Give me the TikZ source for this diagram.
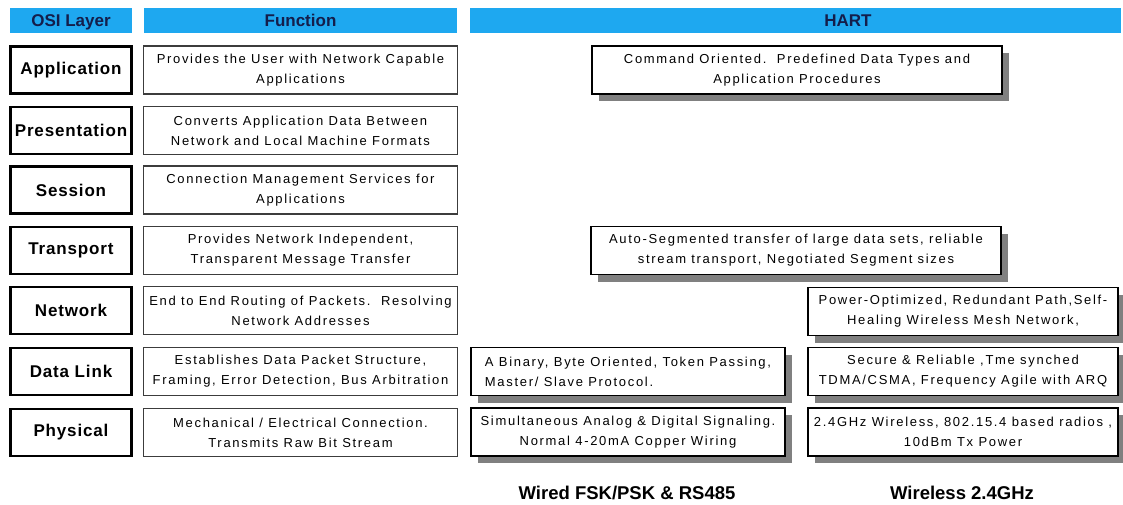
\documentclass[tikz,border=0pt]{standalone}
\usepackage{fontspec}
\setmainfont{Liberation Sans}
\newfontfamily\bodyfont[LetterSpace=13]{Liberation Sans}
\newfontfamily\labfont[LetterSpace=5]{Liberation Sans}
\usetikzlibrary{shadows}
\definecolor{hdrblue}{RGB}{30,168,240}
\definecolor{hdrtext}{RGB}{20,30,75}
\definecolor{shadowgray}{RGB}{128,128,128}
\definecolor{funcborder}{RGB}{60,60,60}
\begin{document}
\begin{tikzpicture}[x=1pt,y=-1pt,
  hdr/.style={fill=hdrblue, draw=none, minimum height=25pt, inner sep=0pt},
  hdrtxt/.style={inner sep=0pt, anchor=base, text=hdrtext, font=\bfseries\fontsize{17}{20}\selectfont},
  osibox/.style={draw=black, line width=2.5pt, fill=white, minimum width=121pt,
    minimum height=47pt, inner sep=0pt, font=\labfont\bfseries\fontsize{17}{20}\selectfont},
  funcbox/.style={draw=funcborder, line width=1.2pt, fill=white, minimum width=314pt,
    minimum height=48pt, inner sep=0pt, align=center, font=\bodyfont\fontsize{13}{20}\selectfont},
  hartbox/.style={draw=black, line width=1.3pt, fill=white, minimum height=48pt,
    inner sep=0pt, align=center, font=\bodyfont\fontsize{13}{20}\selectfont,
    drop shadow={shadow xshift=7pt, shadow yshift=-7pt, fill=shadowgray, opacity=1}},
  bottomlab/.style={inner sep=0pt, font=\bfseries\fontsize{18.5}{20}\selectfont}
]
\useasboundingbox (0,0) rectangle (1123,505);
\fill[white] (0,0) rectangle (1123,505);

% headers
\node[hdr, minimum width=122pt] (hosi) at (71,20.5) {};
\node[hdr, minimum width=313pt] (hfunc) at (300.5,20.5) {};
\node[hdr, minimum width=651pt] (hhart) at (795.5,20.5) {};
\node[hdrtxt] (hositext) at (71,27) {OSI Layer};
\node[hdrtxt] (hfunctext) at (300.5,27) {Function};
\node[hdrtxt] (hharttext) at (848,27) {HART};

% OSI layers
\node[osibox] (l1) at (71,70) {Application};
\node[osibox] (l2) at (71,130.5) {Presentation};
\node[osibox] (l3) at (71,190) {Session};
\node[osibox] (l4) at (71,250.5) {Transport};
\node[osibox] (l5) at (71,310.5) {Network};
\node[osibox] (l6) at (71,371.5) {Data Link};
\node[osibox] (l7) at (71,432.5) {Physical};

% functions
\node[funcbox] (f1) at (300.5,70) {Provides the User with Network Capable\\Applications};
\node[funcbox] (f2) at (300.5,130.5) {Converts Application Data Between\\Network and Local Machine Formats};
\node[funcbox] (f3) at (300.5,190) {Connection Management Services for\\Applications};
\node[funcbox] (f4) at (300.5,250.5) {Provides Network Independent,\\Transparent Message Transfer};
\node[funcbox] (f5) at (300.5,310.5) {End to End Routing of Packets.\ \ Resolving\\Network Addresses};
\node[funcbox] (f6) at (300.5,371.5) {Establishes Data Packet Structure,\\Framing, Error Detection, Bus Arbitration};
\node[funcbox] (f7) at (300.5,432.5) {Mechanical / Electrical Connection.\\Transmits Raw Bit Stream};

% HART
\node[hartbox, minimum width=410pt] (h1) at (797,70) {Command Oriented.\ \ Predefined Data Types and\\Application Procedures};
\node[hartbox, minimum width=410pt] (h4) at (796,250.5) {Auto-Segmented transfer of large data sets, reliable\\stream transport, Negotiated Segment sizes};
\node[hartbox, minimum width=310pt] (h5) at (963,311.5) {Power-Optimized, Redundant Path,Self-\\Healing Wireless Mesh Network,};
\node[hartbox, minimum width=314pt, align=left] (h6a) at (628,371.5) {A Binary, Byte Oriented, Token Passing,\\Master/ Slave Protocol.};
\node[hartbox, minimum width=310pt] (h6b) at (963,371.5) {Secure \& Reliable ,Tme synched\\TDMA/CSMA, Frequency Agile with ARQ};
\node[hartbox, minimum width=314pt] (h7a) at (628,432) {Simultaneous Analog \& Digital Signaling.\\Normal 4-20mA Copper Wiring};
\node[hartbox, minimum width=310pt] (h7b) at (963,432) {2.4GHz Wireless, 802.15.4 based radios ,\\10dBm Tx Power};

% bottom labels
\node[bottomlab] (wired) at (627,493) {Wired FSK/PSK \& RS485};
\node[bottomlab] (wless) at (962,493) {Wireless 2.4GHz};
\end{tikzpicture}
\end{document}
